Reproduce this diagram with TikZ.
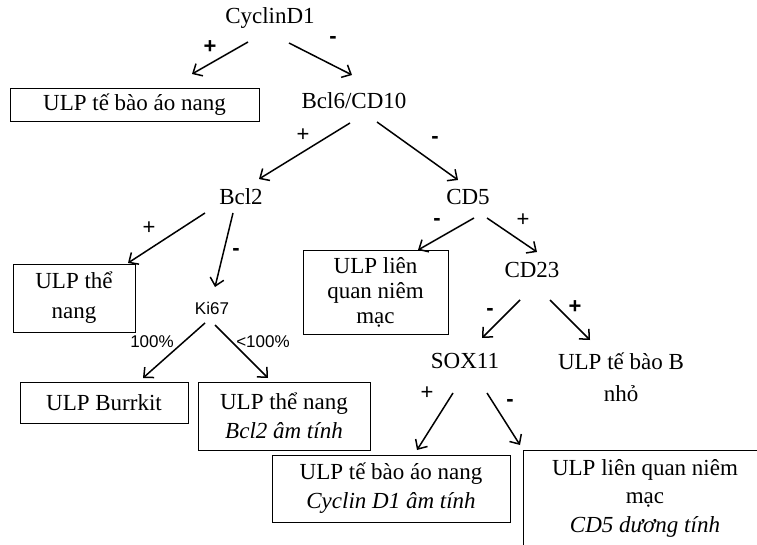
\documentclass[tikz,border=0pt]{standalone}
\usepackage{fontspec}
\setmainfont{Liberation Serif}
\newfontfamily\arialf{Liberation Sans}
\usetikzlibrary{arrows.meta}
\begin{document}
\begin{tikzpicture}[x=1pt,y=-1pt,
  lbl/.style={font=\fontsize{23}{28}\selectfont, inner sep=0pt, align=center},
  boxn/.style={draw, line width=0.8pt, font=\fontsize{23}{29}\selectfont, inner sep=0pt, align=center},
  sgn/.style={font=\arialf\fontsize{22}{24}\selectfont, inner sep=0pt},
  sgnb/.style={font=\arialf\bfseries\fontsize{22}{24}\selectfont, inner sep=0pt},
  pct/.style={font=\arialf\fontsize{17}{20}\selectfont, inner sep=0pt},
  arr/.style={line width=1.5pt, -{Straight Barb[length=7.5pt,width=14pt,line width=1.5pt]}}
]
\clip (0,0) rectangle (757,545);
\fill[white] (0,0) rectangle (757,545);

% nodes
\node[lbl] (cyc) at (270,18) {CyclinD1};
\node[boxn, minimum width=249pt, minimum height=33pt] (mcl) at (134.5,104.5) {ULP tế bào áo nang};
\node[lbl] (bcl6) at (354,101) {Bcl6/CD10};
\node[lbl] (bcl2) at (241,197) {Bcl2};
\node[lbl] (cd5) at (468,197) {CD5};
\node[boxn, minimum width=122pt, minimum height=68pt, font=\fontsize{23}{30}\selectfont] (fl1) at (74,298) {ULP thể\\nang};
\node[pct] (ki) at (212,308) {Ki67};
\node[boxn, minimum width=168pt, minimum height=41pt] (bur) at (104,402.5) {ULP Burrkit};
\node[boxn, minimum width=172pt, minimum height=68pt] (fl2) at (284,416) {ULP thể nang\\\textit{Bcl2 âm tính}};
\node[boxn, minimum width=145pt, minimum height=84pt, font=\fontsize{23}{25}\selectfont] (mz1) at (375.5,292) {ULP liên\\quan niêm\\mạc};
\node[lbl] (cd23) at (532,270) {CD23};
\node[lbl] (sox) at (465,361) {SOX11};
\node[lbl, font=\fontsize{23}{32}\selectfont] (sll) at (621,377) {ULP tế bào B\\nhỏ};
\node[boxn, minimum width=238pt, minimum height=67pt] (mcl2) at (391,488.5) {ULP tế bào áo nang\\\textit{Cyclin D1 âm tính}};
\draw[line width=0.8pt] (523,450) rectangle (780,570);
\node[lbl, font=\fontsize{23}{28.5}\selectfont] (mz2) at (645,498) {ULP liên quan niêm\\mạc\\\textit{CD5 dương tính}};

% connector end points
\coordinate (a1s) at (248,42);  \coordinate (a1e) at (192,74);
\coordinate (a2s) at (289,43);  \coordinate (a2e) at (352,75);
\coordinate (a3s) at (350,123); \coordinate (a3e) at (259,179);
\coordinate (a4s) at (377,122); \coordinate (a4e) at (458,180);
\coordinate (a5s) at (205,213); \coordinate (a5e) at (128,263);
\coordinate (a6s) at (233,213); \coordinate (a6e) at (215,287);
\coordinate (a7s) at (205,323); \coordinate (a7e) at (143,378);
\coordinate (a8s) at (215,325); \coordinate (a8e) at (268,378);
\coordinate (a9s) at (474,218); \coordinate (a9e) at (418,250);
\coordinate (a10s) at (487,218); \coordinate (a10e) at (537,252);
\coordinate (a11s) at (520,300); \coordinate (a11e) at (482,338);
\coordinate (a12s) at (550,300); \coordinate (a12e) at (590,340);
\coordinate (a13s) at (453,393); \coordinate (a13e) at (417,450);
\coordinate (a14s) at (487,393); \coordinate (a14e) at (520,445);

\foreach \i in {1,...,14} {\draw[arr] (a\i s) -- (a\i e);}

% signs
\node[sgnb] (s1) at (210,47) {+};
\node[sgnb] (s2) at (333,40) {-};
\node[sgn] (s3) at (303,135) {+};
\node[sgnb] (s4) at (435,140) {-};
\node[sgn] (s5) at (149,228) {+};
\node[sgnb] (s6) at (236,252) {-};
\node[sgnb] (s9) at (437,222) {-};
\node[sgn] (s10) at (523,220) {+};
\node[sgnb] (s11) at (490,312) {-};
\node[sgnb] (s12) at (575,307) {+};
\node[sgn] (s13) at (427,393) {+};
\node[sgnb] (s14) at (510,403) {-};
\node[pct] (p1) at (152,342) {100\%};
\node[pct] (p2) at (263,342) {<100\%};
\end{tikzpicture}
\end{document}
